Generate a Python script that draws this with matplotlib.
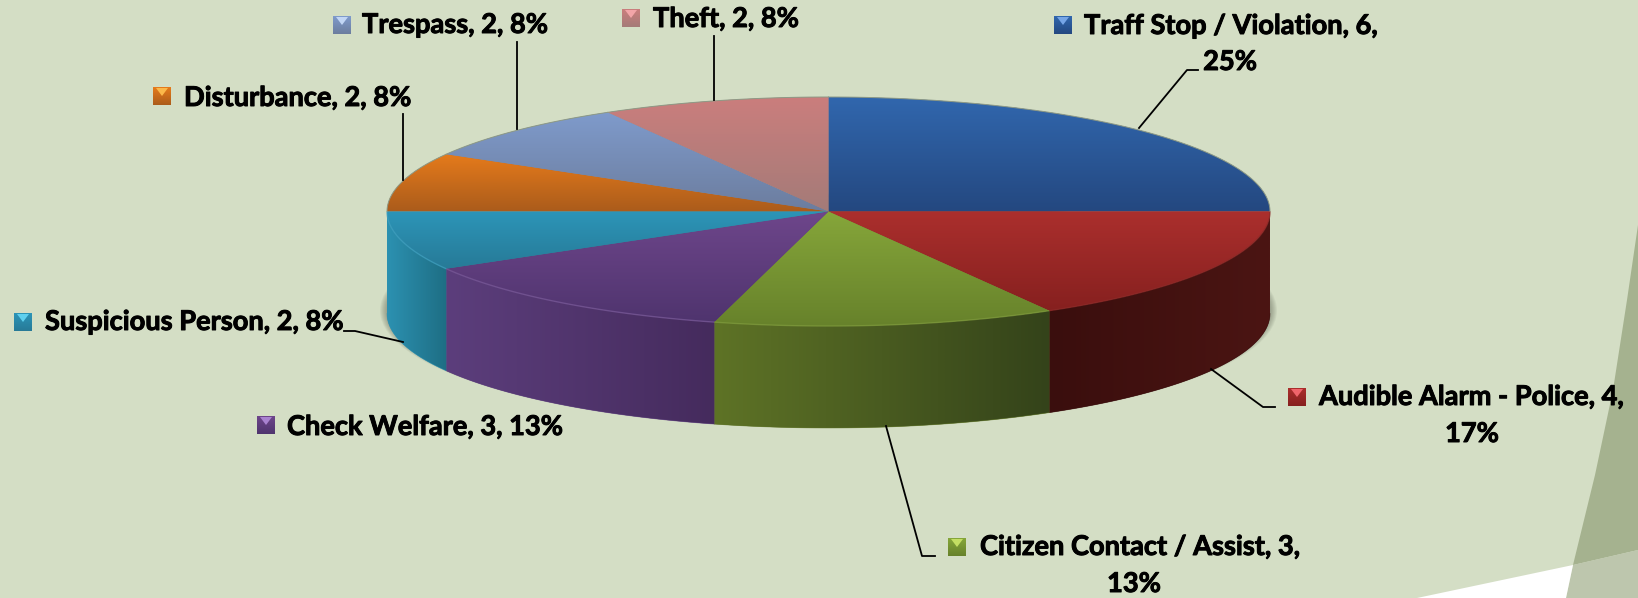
import matplotlib
matplotlib.use('Agg')
import matplotlib.pyplot as plt
import matplotlib.patheffects as pe
import numpy as np
from matplotlib.colors import to_rgb
from matplotlib.patches import Ellipse, Polygon

# Chart data
categories = ['Traff Stop / Violation', 'Audible Alarm - Police', 'Citizen Contact / Assist', 'Check Welfare',
              'Suspicious Person', 'Disturbance', 'Trespass', 'Theft']
counts = [6, 4, 3, 3, 2, 2, 2, 2]
percents = [25, 17, 13, 13, 8, 8, 8, 8]

# Slice colours
top_light = ['#3167AE', '#AB2F2D', '#86A63A', '#6E468B', '#2C95B8', '#E67B1B', '#7F9BCC', '#CB7E7D']
top_dark = ['#244880', '#86201F', '#67822B', '#4F346E', '#277A97', '#AB5C1B', '#6C7D9E', '#A47B78']
wall_left = ['#000000', '#3A0E0D', '#5E7326', '#5C3E7C', '#2C91B1', '#000000', '#000000', '#000000']
wall_right = ['#000000', '#4B1513', '#34431A', '#452B5D', '#1E6E84', '#000000', '#000000', '#000000']
rim_colors = ['#000000', '#8E2A28', '#7F9B3C', '#7A5A9A', '#3FA0C0', '#000000', '#000000', '#000000']
key_light = ['#76A5E6', '#F0656B', '#C4DE63', '#A982D0', '#5FD0EE', '#FBB84A', '#C2D6F5', '#F2A5A8']

# Layout in pixels of the 1638x598 picture
WIDTH, HEIGHT = 1638, 598
CX, CY, RX, RY = 828.5, 211.5, 441.5, 114.5
DEPTH = 102.0 / RY
FONT = 19.6

# (text x, baseline y, second line centre x, second line baseline y, key x, key y)
label_pos = [(1084, 34, 1230, 70, 1054, 16),
             (1319, 405, 1472, 442, 1288, 388),
             (980, 555, 1134, 592, 948, 538),
             (287, 435, None, None, 257, 416),
             (45, 330, None, None, 14, 313),
             (184, 106, None, None, 153, 87),
             (362, 33, None, None, 333, 16),
             (653, 27, None, None, 622, 9)]
leaders = [[(1139, 128), (1187, 70), (1198, 70)],
           [(1211, 369), (1263, 407), (1275, 407)],
           [(886, 426), (922, 556), (935, 556)],
           None,
           [(403, 342), (355, 331), (344, 331)],
           [(403, 180), (403, 114)],
           [(517, 129), (517, 42)],
           [(714, 100), (714, 36)]]


def gradient(ax, c1, c2, extent, clip=None, horizontal=False, zorder=2):
    t = np.linspace(0, 1, 128)
    rgb = np.outer(1 - t, to_rgb(c1)) + np.outer(t, to_rgb(c2))
    img = rgb[np.newaxis, :, :] if horizontal else rgb[:, np.newaxis, :]
    im = ax.imshow(img, extent=extent, origin='upper', aspect='auto', interpolation='bilinear', zorder=zorder)
    if clip is not None:
        im.set_clip_path(clip)
    return im


fig = plt.figure(figsize=(WIDTH / 100, HEIGHT / 100), dpi=100, facecolor='#D4DEC5')

# Background shapes
ax_bg = fig.add_axes([0, 0, 1, 1])
ax_bg.set_xlim(0, WIDTH)
ax_bg.set_ylim(HEIGHT, 0)
ax_bg.axis('off')
ax_bg.add_patch(Polygon([(1638, 225), (1627, 300), (1613, 390), (1595, 475), (1573, 565), (1638, 550)],
                        facecolor='#A5B28F', edgecolor='none'))
ax_bg.add_patch(Polygon([(1573, 565), (1638, 550), (1638, 598), (1566, 598)], facecolor='#BDC6AD', edgecolor='none'))
ax_bg.add_patch(Polygon([(1417, 598), (1573, 565), (1566, 598)], facecolor='white', edgecolor='none'))

# Pie axes: one data unit is one radius, so the round pie comes out flattened
ax = fig.add_axes([0, 0, 1, 1])
ax.patch.set_alpha(0)
wedges, _ = ax.pie(counts, startangle=90, counterclock=False, radius=1, colors=top_light,
                   wedgeprops=dict(linewidth=0, zorder=3))
ax.set_aspect('auto')
ax.set_xlim(-CX / RX, (WIDTH - CX) / RX)
ax.set_ylim((CY - HEIGHT) / RY, CY / RY)
ax.set_axis_off()

# Soft shadow under the pie, wider than it is deep
for e in range(7, 0, -1):
    ax.add_patch(Ellipse((0, -DEPTH + 3 / RY), 2 + 2 * e / RX, 2 + 0.8 * e / RY, facecolor='#3A4030',
                         edgecolor='none', alpha=0.06, zorder=1))

# Side wall of the front half, angles come from the counts
edges = np.concatenate([[0], np.cumsum(counts)]) * 360.0 / sum(counts)
for i in range(len(counts)):
    t1, t2 = max(edges[i], 90), min(edges[i + 1], 270)
    if t2 <= t1:
        continue
    t = np.radians(np.linspace(t1, t2, 80))
    x, y = np.sin(t), np.cos(t)
    pts = np.concatenate([np.column_stack([x, y]), np.column_stack([x, y - DEPTH])[::-1]])
    wall = Polygon(pts, facecolor=wall_left[i], edgecolor='none', zorder=2)
    ax.add_patch(wall)
    gradient(ax, wall_left[i], wall_right[i], (x.min(), x.max(), (y - DEPTH).min(), y.max()),
             clip=wall, horizontal=True)
    ax.plot(x, y - DEPTH, color=wall_left[i], lw=0.5, alpha=0.6, zorder=4)

# Top of the pie, shaded from the back edge to the front edge of each slice
for i, w in enumerate(wedges):
    box = w.get_path().get_extents()
    w.set_facecolor(top_dark[i])
    gradient(ax, top_light[i], top_dark[i], (-1, 1, box.y0, box.y1), clip=w, zorder=3.1)
    t = np.radians(np.linspace(edges[i], edges[i + 1], 80))
    if rim_colors[i] != '#000000':
        vis = (t >= np.radians(90)) & (t <= np.radians(270))
        ax.plot(np.sin(t[vis]), np.cos(t[vis]), color=rim_colors[i], lw=1.0, alpha=0.7, zorder=4,
                solid_capstyle='butt')
    else:
        ax.plot(np.sin(t), np.cos(t), color='#8E9A86', lw=0.7, zorder=4)

# Leaders, keys and labels
ax_top = fig.add_axes([0, 0, 1, 1])
ax_top.patch.set_alpha(0)
ax_top.set_xlim(0, WIDTH)
ax_top.set_ylim(HEIGHT, 0)
ax_top.set_axis_off()

for pts in leaders:
    if pts:
        ax_top.plot(*zip(*pts), color='black', lw=1.3, solid_joinstyle='round', zorder=2)

thick = [pe.withStroke(linewidth=0.7, foreground='black')]
for i, cat in enumerate(categories):
    tx, ty, cx2, cy2, kx, ky = label_pos[i]
    gradient(ax_top, top_light[i], top_dark[i], (kx, kx + 18, ky + 18, ky), zorder=3)
    ax_top.add_patch(Polygon([(kx + 3, ky + 1), (kx + 15, ky + 1), (kx + 9, ky + 9)],
                             facecolor=key_light[i], edgecolor='none', zorder=4))
    text = f'{cat}, {counts[i]}, {percents[i]}%'
    if cx2 is not None:
        text = f'{cat}, {counts[i]},'
        ax_top.text(cx2, cy2, f'{percents[i]}%', family='Lato', weight='bold', fontsize=FONT,
                    ha='center', va='baseline', color='black', zorder=5, path_effects=thick)
    ax_top.text(tx, ty, text, family='Lato', weight='bold', fontsize=FONT,
                ha='left', va='baseline', color='black', zorder=5, path_effects=thick)

fig.savefig('out.png', dpi=100, facecolor=fig.get_facecolor())
